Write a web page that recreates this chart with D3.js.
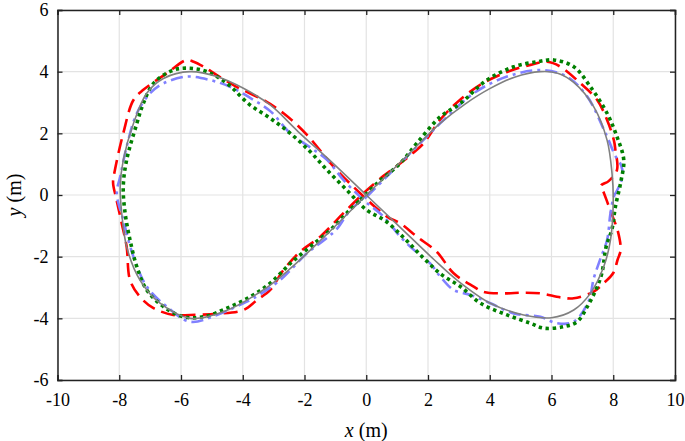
<!DOCTYPE html>
<html>
<head>
<meta charset="utf-8">
<script src="https://cdn.jsdelivr.net/npm/d3@7"></script>
<style>
  html, body { margin: 0; padding: 0; background: #fff; }
  svg { display: block; }
  text { font-family: "Liberation Serif", "DejaVu Serif", serif; fill: #000; }
</style>
</head>
<body>
<svg id="chart" width="685" height="441"></svg>
<script>
// ---- Data ----
const xTicks = [-10, -8, -6, -4, -2, 0, 2, 4, 6, 8, 10];
const yTicks = [-6, -4, -2, 0, 2, 4, 6];

// Reference trajectory (gray solid)
const refX = [0, 1.2, 2.4, 3.2, 4.0, 4.8, 5.64, 6.2, 6.72, 7.37, 7.8, 7.96, 8.0, 7.91, 7.69, 7.26, 6.72, 6.0, 5.1, 4.02, 2.94, 2.2, 1.1, 0,
  -1.1, -2.2, -3.11, -3.98, -4.84, -5.7, -6.57, -7.11, -7.54, -7.87, -7.97, -7.92, -7.76, -7.33, -6.68, -5.7, -4.63, -3.11, -2.2, -1.2, 0];
const refY = [0, 1.15, 2.33, 2.95, 3.45, 3.82, 4.0, 3.95, 3.65, 2.86, 1.78, 0.7, -0.16, -1.46, -2.33, -3.19, -3.73, -3.98, -3.89, -3.51, -2.76, -2.1, -1.05, 0,
  1.05, 2.05, 2.92, 3.46, 3.84, 4.0, 3.78, 3.3, 2.32, 1.13, 0.27, -0.59, -1.68, -2.76, -3.51, -4.0, -3.79, -2.92, -2.15, -1.2, 0];

// Red dashed series
const redX = [-0.09, 0.56, 1.0, 1.5, 1.86, 2.4, 2.94, 3.7, 4.56, 5.32, 5.86, 6.29, 6.94, 7.48, 7.8, 8.02, 8.07, 8.12, 7.85, 7.6, 7.7, 7.84, 8.0, 8.14, 8.24, 8.14, 8.0, 7.69, 7.37, 6.72, 6.29, 5.64, 5.0, 4.56, 3.8, 3.48, 2.83, 2.29, 1.64, 1.1, 0.67, -0.19,
  -1.06, -1.92, -2.68, -3.33, -4.19, -4.84, -5.27, -5.59, -5.81, -6.46, -7.22, -7.54, -7.87, -8.14, -8.2, -8.1, -7.92, -7.76, -7.65, -7.33, -6.89, -6.25, -5.7, -4.84, -3.98, -3.54, -3.11, -2.68, -2.14, -1.49, -0.74, -0.09];
const redY = [0.06, 0.62, 0.95, 1.35, 1.68, 2.45, 3.0, 3.58, 3.99, 4.22, 4.32, 4.16, 3.62, 3.08, 2.43, 1.78, 1.46, 0.81, 0.45, 0.3, 0.06, -0.32, -0.75, -1.14, -1.78, -2.1, -2.53, -2.86, -3.13, -3.35, -3.32, -3.19, -3.17, -3.19, -3.14, -2.97, -2.54, -1.85, -1.35, -0.92, -0.7, 0.05,
  0.92, 1.95, 2.65, 3.08, 3.5, 3.89, 4.16, 4.32, 4.38, 3.95, 3.41, 3.08, 2.0, 0.81, 0.4, -0.1, -0.92, -1.68, -2.76, -3.3, -3.67, -3.89, -3.89, -3.85, -3.73, -3.41, -3.08, -2.43, -1.84, -1.35, -0.59, 0.06];

// Blue dash-dot series
const blueX = [0.02, 0.56, 1.21, 1.75, 2.4, 3.48, 4.56, 5.64, 6.5, 7.16, 7.7, 7.85, 8.05, 8.26, 8.3, 8.13, 8.02, 7.91, 7.8, 7.59, 7.37, 7.2, 6.72, 6.18, 5.64, 4.78, 4.02, 3.38, 2.83, 2.4, 2.07, 1.54, 1.1, 0.56, -0.09,
  -0.74, -1.27, -1.75, -2.46, -3.11, -3.76, -4.41, -5.06, -5.81, -6.57, -7.0, -7.43, -7.76, -7.97, -8.08, -7.87, -7.54, -7.11, -6.46, -5.7, -4.84, -3.98, -3.65, -2.79, -1.92, -1.35, -0.95, -0.52, 0.02];
const blueY = [-0.05, 0.49, 1.14, 1.68, 2.33, 3.3, 3.84, 4.05, 3.84, 3.19, 2.11, 1.78, 1.3, 0.95, 0.6, 0.16, -0.05, -0.59, -1.46, -2.05, -2.7, -3.45, -4.11, -4.16, -3.95, -3.84, -3.51, -3.24, -3.08, -2.65, -2.22, -1.78, -1.35, -0.7, -0.16,
  0.49, 1.14, 1.5, 2.0, 2.72, 3.15, 3.51, 3.73, 3.84, 3.62, 3.3, 2.65, 1.57, 0.59, 0.06, -0.81, -2.0, -2.97, -3.62, -4.11, -3.89, -3.51, -3.35, -2.76, -1.89, -1.45, -1.1, -0.49, -0.05];

// Green dotted series
const greenX = [-0.19, 0.35, 1.1, 1.64, 2.4, 3.05, 3.91, 4.78, 5.53, 6.07, 6.72, 7.26, 7.8, 8.12, 8.34, 8.25, 8.07, 7.96, 7.77, 7.63, 7.45, 7.16, 6.83, 6.4, 5.75, 5.32, 4.56, 3.7, 3.05, 2.45, 1.86, 1.25, 0.62, 0.02,
  -0.63, -1.27, -1.82, -2.46, -3.11, -3.8, -4.51, -5.16, -5.7, -6.25, -6.89, -7.22, -7.43, -7.76, -7.87, -7.81, -7.65, -7.43, -7.11, -6.57, -5.92, -5.27, -4.51, -3.76, -3.11, -2.46, -1.82, -1.17, -0.6, -0.19];
const greenY = [-0.16, 0.38, 1.03, 1.68, 2.54, 2.97, 3.73, 4.16, 4.32, 4.38, 4.16, 3.51, 2.65, 1.89, 1.14, 0.45, -0.38, -1.1, -1.68, -2.54, -3.05, -3.62, -4.11, -4.27, -4.32, -4.16, -3.89, -3.51, -2.97, -2.59, -2.05, -1.42, -0.84, -0.49,
  0.16, 0.81, 1.41, 2.0, 2.49, 2.95, 3.62, 4.0, 4.11, 4.05, 3.62, 2.97, 2.32, 1.14, 0.27, -0.59, -1.46, -2.33, -3.08, -3.62, -3.95, -3.95, -3.67, -3.3, -2.86, -2.22, -1.68, -1.14, -0.55, -0.16];

// ---- Layout ----
const svg = d3.select("#chart");
const L = 57.5, R = 675, T = 10, B = 380;
const x = d3.scaleLinear().domain([-10, 10]).range([L, R]);
const y = d3.scaleLinear().domain([-6, 6]).range([B, T]);

// Grid
const grid = svg.append("g").attr("stroke", "#e3e3e3").attr("stroke-width", 1.2);
grid.selectAll("line.vx").data(xTicks).join("line")
  .attr("x1", d => x(d)).attr("x2", d => x(d)).attr("y1", T).attr("y2", B);
grid.selectAll("line.hy").data(yTicks).join("line")
  .attr("y1", d => y(d)).attr("y2", d => y(d)).attr("x1", L).attr("x2", R);

// Series
const zip = (xs, ys) => xs.map((v, i) => [v, ys[i]]);
const line = d3.line().x(d => x(d[0])).y(d => y(d[1])).curve(d3.curveCatmullRom.alpha(0.5));

const plot = svg.append("g").attr("fill", "none");
plot.append("path").attr("d", line(zip(redX, redY)))
  .attr("stroke", "#ff0000").attr("stroke-width", 2.6).attr("stroke-dasharray", "14,7");
plot.append("path").attr("d", line(zip(blueX, blueY)))
  .attr("stroke", "#8080ff").attr("stroke-width", 2.6).attr("stroke-dasharray", "12,5,3,5");
plot.append("path").attr("d", line(zip(greenX, greenY)))
  .attr("stroke", "#008000").attr("stroke-width", 3.6).attr("stroke-dasharray", "3.4,3.6");
plot.append("path").attr("d", line(zip(refX, refY)))
  .attr("stroke", "#808080").attr("stroke-width", 1.6);

// Axes (ticks inward, box)
const fs = "18px";
const axB = svg.append("g").attr("transform", `translate(0,${B})`)
  .call(d3.axisBottom(x).tickValues(xTicks).tickSize(-5).tickPadding(13).tickFormat(d => String(d)));
const axT = svg.append("g").attr("transform", `translate(0,${T})`)
  .call(d3.axisTop(x).tickValues(xTicks).tickSize(-5).tickFormat(""));
const axL = svg.append("g").attr("transform", `translate(${L},0)`)
  .call(d3.axisLeft(y).tickValues(yTicks).tickSize(-5).tickPadding(9).tickFormat(d => String(d)));
const axR = svg.append("g").attr("transform", `translate(${R},0)`)
  .call(d3.axisRight(y).tickValues(yTicks).tickSize(-5).tickFormat(""));
[axB, axT, axL, axR].forEach(g => {
  g.selectAll("path.domain").attr("stroke", "#222").attr("stroke-width", 1.5);
  g.selectAll(".tick line").attr("stroke", "#222").attr("stroke-width", 1.3);
  g.selectAll("text").attr("font-family", "Liberation Serif, DejaVu Serif, serif").attr("font-size", fs).attr("fill", "#000");
});

// Axis labels
const xl = svg.append("text").attr("x", x(0)).attr("y", 437).attr("text-anchor", "middle").attr("font-size", "20px");
xl.append("tspan").attr("font-style", "italic").text("x");
xl.append("tspan").text(" (m)");
const yl = svg.append("text").attr("transform", `translate(21,${y(0)}) rotate(-90)`).attr("text-anchor", "middle").attr("font-size", "20px");
yl.append("tspan").attr("font-style", "italic").text("y");
yl.append("tspan").text(" (m)");
</script>
</body>
</html>
